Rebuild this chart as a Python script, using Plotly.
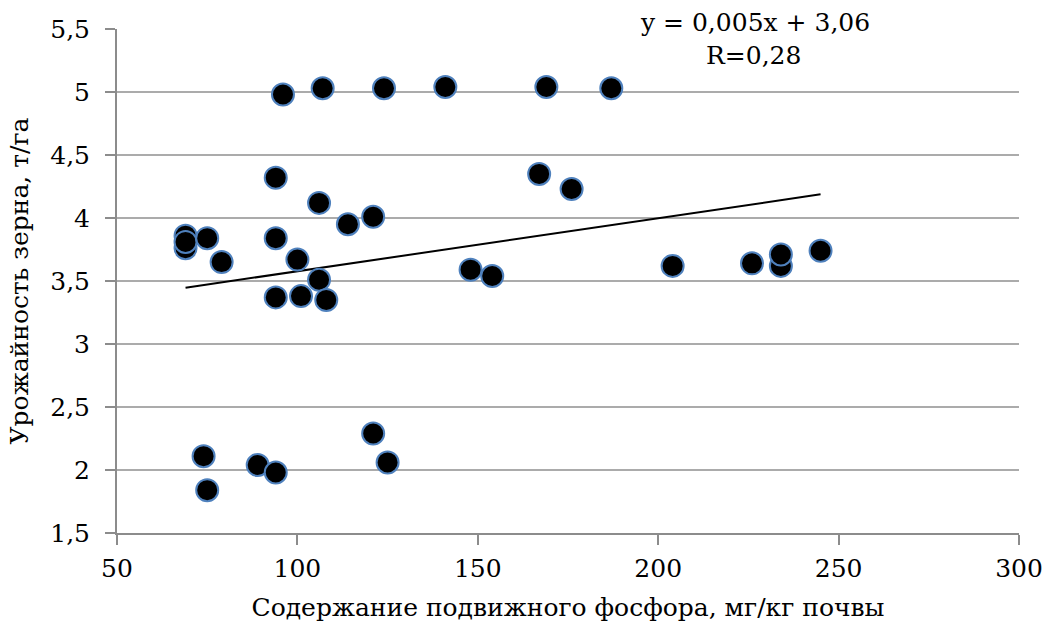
import numpy as np
import plotly.graph_objects as go

phosphorus = [69, 69, 69, 75, 79, 96, 94, 94, 94, 100, 101, 106, 106, 108, 107,
              114, 121, 124, 141, 148, 154, 167, 169, 176, 187, 204, 226, 234,
              234, 245, 74, 75, 89, 94, 121, 125]
yield_t = [3.86, 3.76, 3.81, 3.84, 3.65, 4.98, 4.32, 3.84, 3.37, 3.67, 3.38, 4.12,
           3.51, 3.35, 5.03, 3.95, 4.01, 5.03, 5.04, 3.59, 3.54, 4.35, 5.04, 4.23,
           5.03, 3.62, 3.64, 3.62, 3.71, 3.74, 2.11, 1.84, 2.04, 1.98, 2.29, 2.06]

x_ticks = [50, 100, 150, 200, 250, 300]
y_ticks = [1.5, 2, 2.5, 3, 3.5, 4, 4.5, 5, 5.5]
y_tick_labels = ["1,5", "2", "2,5", "3", "3,5", "4", "4,5", "5", "5,5"]

slope, intercept = np.polyfit(phosphorus, yield_t, 1)
trend_x = [min(phosphorus), max(phosphorus)]
trend_y = [slope * v + intercept for v in trend_x]

FONT = "DejaVu Serif"
FS = 25

fig = go.Figure()
fig.add_trace(go.Scatter(x=trend_x, y=trend_y, mode="lines",
                         line=dict(color="black", width=2), hoverinfo="skip",
                         showlegend=False))
fig.add_trace(go.Scatter(x=phosphorus, y=yield_t, mode="markers",
                         marker=dict(size=22, color="black",
                                     line=dict(color="#4f81bd", width=2)),
                         showlegend=False))

fig.update_layout(
    width=1053, height=639,
    margin=dict(l=117, r=34, t=29, b=106),
    plot_bgcolor="white", paper_bgcolor="white",
    font=dict(family=FONT, size=FS, color="black"),
    xaxis=dict(range=[50, 300], tickvals=x_ticks, ticks="outside", ticklen=10,
               tickcolor="#8c8c8c", tickwidth=2, showgrid=False,
               showline=True, linecolor="#8c8c8c", linewidth=2,
               zeroline=False, automargin=False, ticklabelstandoff=2,
               tickfont=dict(family=FONT, size=FS),
               title=dict(text="Содержание подвижного фосфора, мг/кг почвы",
                          font=dict(family=FONT, size=FS), standoff=16)),
    yaxis=dict(range=[1.5, 5.5], tickvals=y_ticks, ticktext=y_tick_labels,
               ticks="outside", ticklen=10, tickcolor="#8c8c8c", tickwidth=2,
               showgrid=True, gridcolor="#ababab", gridwidth=2,
               showline=True, linecolor="#8c8c8c", linewidth=2,
               zeroline=False, automargin=False, ticklabelstandoff=10,
               tickfont=dict(family=FONT, size=FS),
               title=dict(text="Урожайность зерна, т/га",
                          font=dict(family=FONT, size=FS), standoff=14)),
    annotations=[
        dict(text="y = 0,005x + 3,06", xref="paper", yref="paper",
             x=(755 - 117) / 902, y=1 + (29 - 22) / 504, showarrow=False,
             font=dict(family=FONT, size=FS), xanchor="center", yanchor="middle"),
        dict(text="R=0,28", xref="paper", yref="paper",
             x=(753 - 117) / 902, y=1 - (55 - 29) / 504, showarrow=False,
             font=dict(family=FONT, size=FS), xanchor="center", yanchor="middle"),
    ],
)

fig.write_html("out.html")
